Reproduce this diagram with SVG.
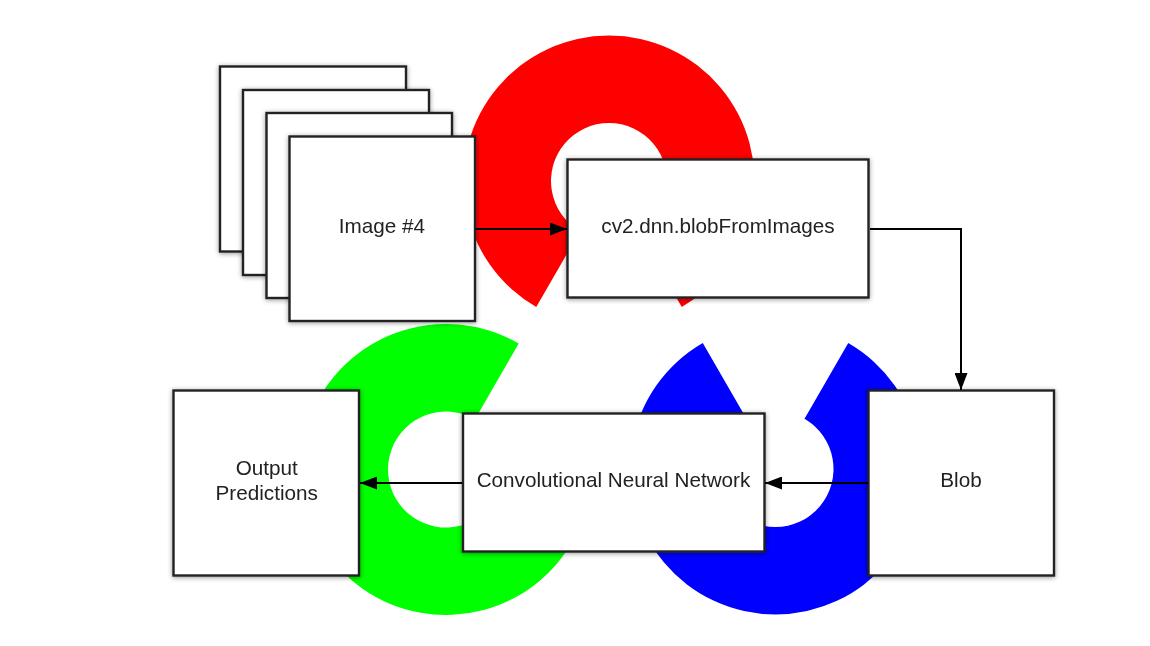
<svg xmlns="http://www.w3.org/2000/svg" width="1150" height="646" viewBox="0 0 1150 646">
<style>
.box{fill:#fff;stroke:#222;stroke-width:2.4;filter:url(#shadow)}
.label{font-family:"Liberation Sans",Arial,sans-serif;font-size:20.7px;fill:#222;text-anchor:middle}
.conn{fill:none;stroke:#000;stroke-width:2}
</style>
<defs>
<filter id="soft" filterUnits="userSpaceOnUse" x="0" y="0" width="1150" height="646"><feGaussianBlur stdDeviation="0.5"/></filter>
<filter id="shadow" x="-10%" y="-10%" width="120%" height="120%"><feDropShadow dx="0" dy="1" stdDeviation="2.5" flood-color="#000" flood-opacity="0.4"/></filter>
<marker id="arrow" markerUnits="userSpaceOnUse" markerWidth="18" markerHeight="13" refX="17" refY="6.500" orient="auto"><path d="M0 0L17 6.500L0 13Z" fill="#000"/></marker>
</defs>
<rect width="1150" height="646" fill="#fff"/>
<g filter="url(#soft)">
<g id="logo">
<path id="ring-red" fill="#f00" d="M536.25 307A145.5 145.5 0 1 1 681.75 307L638 231.2A58 58 0 1 0 580 231.2Z"/>
<path id="ring-green" fill="#0f0" d="M518.75 343.5A145.5 145.5 0 1 0 591.5 469.5L504 469.5A58 58 0 1 1 475 419.3Z"/>
<path id="ring-blue" fill="#00f" d="M702.75 343A145.5 145.5 0 1 0 848.25 343L804.5 418.8A58 58 0 1 1 746.5 418.8Z"/>
</g>
<g id="image-1"><rect class="box" x="220" y="66.500" width="186" height="185"/></g>
<g id="image-2"><rect class="box" x="243" y="90" width="186" height="185"/></g>
<g id="image-3"><rect class="box" x="266.500" y="113" width="185.500" height="185"/></g>
<g id="image-4"><rect class="box" x="289.500" y="136.500" width="185.500" height="184.500"/><text class="label" x="382" y="233">Image #4</text></g>
<g id="blob-from-images"><rect class="box" x="567.500" y="159.500" width="301" height="138"/><text class="label" x="718" y="233">cv2.dnn.blobFromImages</text></g>
<g id="blob"><rect class="box" x="868.500" y="390.500" width="185.500" height="185"/><text class="label" x="961" y="487">Blob</text></g>
<g id="cnn"><rect class="box" x="463" y="413.500" width="301.500" height="138"/><text class="label" x="613.500" y="487">Convolutional Neural Network</text></g>
<g id="output"><rect class="box" x="173.500" y="390.500" width="185.500" height="185"/><text class="label" x="266.700" y="475">Output</text><text class="label" x="266.700" y="500">Predictions</text></g>
<g id="connectors">
<path class="conn" marker-end="url(#arrow)" d="M476 229H567"/>
<path class="conn" marker-end="url(#arrow)" d="M870 229H961V390"/>
<path class="conn" marker-end="url(#arrow)" d="M868 483H765"/>
<path class="conn" marker-end="url(#arrow)" d="M462 483H360"/>
</g>
</g>
</svg>
